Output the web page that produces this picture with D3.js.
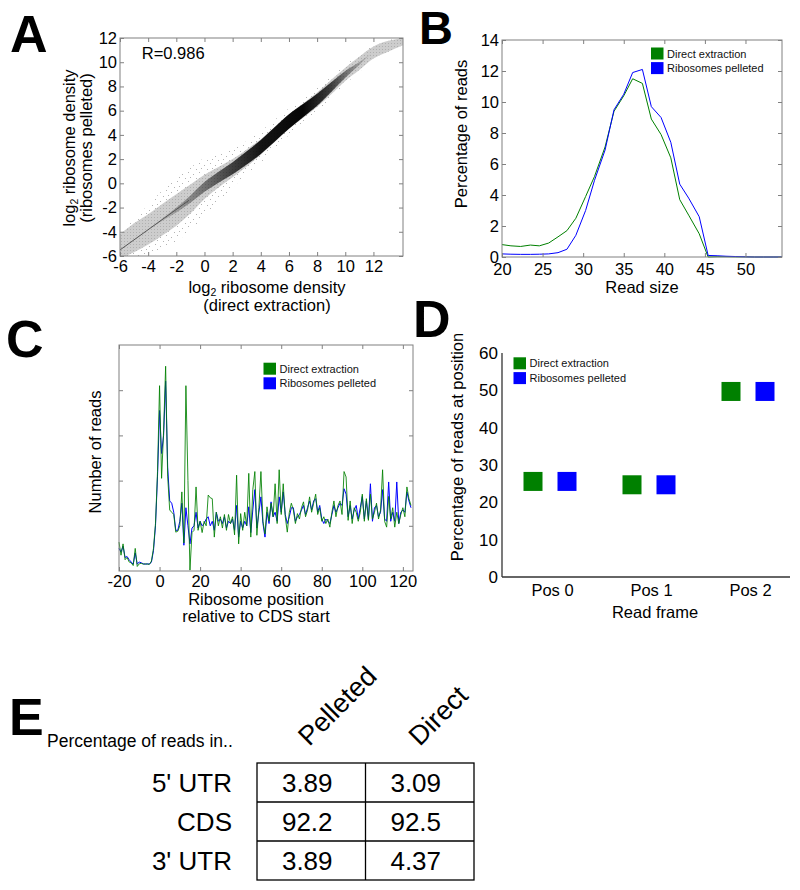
<!DOCTYPE html>
<html><head><meta charset="utf-8">
<script src="https://cdn.jsdelivr.net/npm/d3@7"></script>
<style>
body{margin:0;background:#fff;}
svg{display:block;font-family:"Liberation Sans",Arial,Helvetica,sans-serif;}
</style></head><body>
<svg id="chart" width="800" height="890"></svg>
<script>
// ================= DATA =================
// Panel A: scatter summarised as density bands
const scatterX      = [-6,-5,-4,-3,-2,-1,0,1,2,3,4,5,6,7,8,9,10,11,12,13,14.1];
const scatterMid    = [-5.2,-4.5,-3.8,-3.0,-2.2,-1.3,-0.3,0.5,1.25,2.1,3.0,4.05,5.1,6.0,6.9,7.95,9.0,9.9,10.8,11.3,11.7];
const scatterSparse = [1.0,1.6,2.0,2.4,2.6,2.6,2.4,2.0,1.6,1.4,1.3,1.2,1.1,1.0,1.0,0.9,0.8,0.7,0.6,0.5,0.35];
const scatterGrey   = [1.0,1.2,1.25,1.3,1.3,1.2,1.0,0.85,0.75,0.7,0.65,0.62,0.6,0.6,0.6,0.6,0.55,0.55,0.5,0.45,0.3];
const scatterDark   = [0,0,0.05,0.1,0.2,0.3,0.4,0.45,0.5,0.55,0.58,0.6,0.6,0.55,0.5,0.4,0.28,0.12,0,0,0];
const lowLineX = [-6,-1.1];
const lowLineY = [-5.5,-1.4];
const corrLabel = "R=0.986";
const aTicks = [-6,-4,-2,0,2,4,6,8,10,12];

// Panel B: read size distribution
const readSize = [20,21.1,22.3,23.5,24.6,25.75,26.9,28,29.1,30.3,31.4,32.7,33.8,35,36.1,37.3,38.4,39.6,40.8,41.9,43,44.3,45.4,46.5,47.6,48.8,50,51.1,52.2,53.4,54.5];
const bDirect   = [0.8,0.72,0.68,0.77,0.72,0.9,1.3,1.7,2.5,3.9,5.2,7.1,9.4,10.4,11.5,11.2,8.9,7.9,6.4,3.7,2.7,1.5,0.0,0.02,0.02,0.01,0.01,0,0,0,0];
const bPellet   = [0.2,0.18,0.17,0.17,0.18,0.2,0.28,0.5,1.4,3.0,4.95,6.9,9.5,10.5,11.9,12.1,9.7,9.0,7.4,4.7,3.8,2.6,0.1,0.08,0.05,0.03,0.01,0,0,0,0];
const bXTicks = [20,25,30,35,40,45,50];
const bYTicks = [0,2,4,6,8,10,12,14];

// Panel C: metagene profile around CDS start
const cPos = [-20,-19,-18,-17,-16,-15,-14,-13,-12,-11,-10,-9,-8,-7,-6,-5,-4,-3,-2,-1,
  0,1,2,3,4,5,6,7,8,9,10,11,12,13,14,15,16,17,18,19,20,21,22,23,24,25,26,27,28,29,
  30,31,32,33,34,35,36,37,38,39,40,41,42,43,44,45,46,47,48,49,50,51,52,53,54,55,56,57,58,59,
  60,61,62,63,64,65,66,67,68,69,70,71,72,73,74,75,76,77,78,79,80,81,82,83,84,85,86,87,88,89,
  90,91,92,93,94,95,96,97,98,99,100,101,102,103,104,105,106,107,108,109,110,111,112,113,114,115,116,117,118,119,
  120,121,122,123,124];
const cDirect = [0.64,0.35,0.60,0.25,0.30,0.20,0.18,0.12,0.50,0.10,0.16,0.17,0.15,0.16,0.15,0.15,0.22,0.50,1.05,2.20,
  4.10,2.05,3.10,4.53,2.10,1.35,1.30,1.25,0.86,0.88,1.00,1.75,0.62,4.10,2.00,0.02,0.85,0.90,1.86,0.90,1.10,0.85,1.10,1.00,1.68,1.62,1.60,0.75,1.30,1.00,
  1.20,0.95,1.25,0.90,1.25,1.05,1.20,0.80,2.12,0.60,1.27,0.90,1.30,1.00,2.16,0.75,1.80,2.20,0.79,1.40,2.20,1.10,0.82,1.42,1.10,1.50,1.20,1.93,1.05,2.24,
  1.25,1.93,1.20,0.86,1.30,1.50,1.35,1.05,1.27,1.15,1.40,1.53,1.20,1.35,1.64,1.30,1.50,1.70,1.25,1.40,1.10,1.20,1.05,1.15,0.97,1.30,1.55,1.20,1.45,1.55,
  1.25,2.20,2.08,1.12,1.55,1.05,1.40,1.30,1.10,1.30,1.70,1.10,1.60,1.12,1.70,1.15,1.30,1.50,1.15,1.35,2.24,1.10,0.97,1.65,1.15,1.40,0.97,1.30,1.05,1.25,
  1.40,1.20,1.86,1.60,1.45];
const cPellet = [0.50,0.42,0.55,0.30,0.32,0.25,0.20,0.15,0.40,0.15,0.20,0.18,0.16,0.15,0.16,0.15,0.20,0.45,1.00,2.10,
  3.55,2.60,3.00,4.20,2.30,1.55,1.50,1.30,0.90,0.90,1.10,1.50,0.57,1.40,1.00,0.60,0.95,1.00,1.30,0.95,1.10,1.00,1.05,1.15,1.20,1.00,1.10,0.90,1.30,1.10,
  1.15,1.05,1.20,0.95,1.10,1.05,1.15,0.90,1.45,0.75,1.10,0.95,1.10,1.00,1.42,0.85,1.35,1.80,0.95,1.30,1.64,1.05,0.75,1.30,1.05,1.53,1.20,1.30,1.10,1.64,
  1.30,1.75,1.25,1.05,1.20,1.40,1.40,1.10,1.20,1.25,1.35,1.45,1.25,1.40,1.55,1.35,1.55,1.60,1.30,1.45,1.15,1.05,1.15,1.10,1.05,1.25,1.45,1.30,1.40,1.50,
  1.45,1.82,1.70,1.20,1.45,1.15,1.35,1.45,1.15,1.40,1.65,1.15,1.55,1.15,1.93,1.10,1.40,1.45,1.20,1.30,1.80,1.15,1.10,1.97,1.10,1.30,1.10,1.97,1.05,1.30,
  1.35,1.30,1.75,1.55,1.40];
const cXTicks = [-20,0,20,40,60,80,100,120];
const cYTicks = [1,2,3,4];

// Panel D: reading frame
const frames = ["Pos 0","Pos 1","Pos 2"];
const dDirect = [25.6,24.7,49.7];
const dPellet = [25.6,24.7,49.7];
const dYTicks = [0,10,20,30,40,50,60];

// Panel E: table
const eRows = ["5' UTR","CDS","3' UTR"];
const eCols = ["Pelleted","Direct"];
const ePelleted = ["3.89","92.2","3.89"];
const eDirect   = ["3.09","92.5","4.37"];

const seriesNames = ["Direct extraction","Ribosomes pelleted"];
const GREEN = "#008000", BLUE = "#0000ff", FRAME = "#808080";

// ================= DRAW =================
const svg = d3.select("#chart");
svg.append("rect").attr("width",800).attr("height",890).attr("fill","#fff");
const defs = svg.append("defs");
const fmt = d => String(d);

function boxFrame(g, x, y, xt, yt, xLabels, yLabels, xPad) {
  const [x0,x1] = x.range(), [y0,y1] = y.range();
  const ax = (sel) => { sel.select(".domain").remove(); sel.selectAll("line").attr("stroke",FRAME);
    sel.selectAll("text").attr("fill","#000").attr("font-size",16.5); };
  g.append("g").attr("transform",`translate(0,${y0})`)
    .call(d3.axisBottom(x).tickValues(xt).tickSize(-4).tickSizeOuter(0).tickPadding(xPad||4).tickFormat(xLabels?fmt:""))
    .call(ax);
  g.append("g").attr("transform",`translate(0,${y1})`)
    .call(d3.axisTop(x).tickValues(xt).tickSize(-4).tickSizeOuter(0).tickFormat(""))
    .call(ax);
  g.append("g").attr("transform",`translate(${x0},0)`)
    .call(d3.axisLeft(y).tickValues(yt).tickSize(-4).tickSizeOuter(0).tickPadding(3).tickFormat(yLabels?fmt:""))
    .call(ax);
  g.append("g").attr("transform",`translate(${x1},0)`)
    .call(d3.axisRight(y).tickValues(yt).tickSize(-4).tickSizeOuter(0).tickFormat(""))
    .call(ax);
  g.append("rect").attr("x",x0).attr("y",y1).attr("width",x1-x0).attr("height",y0-y1)
    .attr("fill","none").attr("stroke",FRAME).attr("stroke-width",1);
}

function legend(g, x, y, gap) {
  seriesNames.forEach((n,i) => {
    g.append("rect").attr("x",x).attr("y",y+i*gap).attr("width",12.5).attr("height",12)
      .attr("fill", i===0?GREEN:BLUE);
    g.append("text").attr("x",x+16).attr("y",y+i*gap+10).attr("font-size",11).attr("fill","#111").text(n);
  });
}

function panelLetter(t, x, y, size) {
  svg.append("text").attr("x",x).attr("y",y).attr("font-size",size||52).attr("font-weight","bold").attr("fill","#000").text(t);
}

// ---------- Panel A ----------
{
  const g = svg.append("g");
  const x = d3.scaleLinear().domain([-6,14.1]).range([120,403]);
  const y = d3.scaleLinear().domain([-6,12]).range([256,38]);
  defs.append("clipPath").attr("id","clipA").append("rect")
    .attr("x",120).attr("y",38).attr("width",283).attr("height",218);
  const pat = defs.append("pattern").attr("id","speck").attr("patternUnits","userSpaceOnUse")
    .attr("width",11).attr("height",9);
  [[1,1],[6,3],[3,6],[9,7]].forEach(p => pat.append("rect").attr("x",p[0]).attr("y",p[1])
    .attr("width",1).attr("height",1).attr("fill","#b4b4b4"));
  const pat2 = defs.append("pattern").attr("id","speck2").attr("patternUnits","userSpaceOnUse")
    .attr("width",3).attr("height",3);
  pat2.append("rect").attr("width",3).attr("height",3).attr("fill","#cdcdcd");
  pat2.append("rect").attr("x",1).attr("y",1).attr("width",1).attr("height",1).attr("fill","#b0b0b0");
  const grad = defs.append("linearGradient").attr("id","coreGrad").attr("gradientUnits","userSpaceOnUse")
    .attr("x1",x(-6)).attr("x2",x(14.1)).attr("y1",0).attr("y2",0);
  const stops = [[-4,0],[-2,0.25],[0,0.45],[2,0.7],[4,0.9],[7,0.97],[9,0.7],[10.5,0.35],[12,0]];
  stops.forEach(s => grad.append("stop").attr("offset",(x(s[0])-x(-6))/(x(14.1)-x(-6)))
    .attr("stop-color","#000").attr("stop-opacity",s[1]));

  const pts = scatterX.map((v,i)=>({x:v,m:scatterMid[i],s:scatterSparse[i],g:scatterGrey[i],d:scatterDark[i]}));
  const area = (k) => d3.area().curve(d3.curveCatmullRom.alpha(0.5))
    .x(d=>x(d.x)).y0(d=>y(d.m-d[k])).y1(d=>y(d.m+d[k]));
  const cg = g.append("g").attr("clip-path","url(#clipA)");
  cg.append("path").attr("d",area("s")(pts)).attr("fill","url(#speck)");
  cg.append("path").attr("d",area("g")(pts)).attr("fill","url(#speck2)");
  cg.append("path").attr("d",area("d")(pts)).attr("fill","url(#coreGrad)");
  cg.append("path").attr("d",d3.line().x(d=>x(d)).y((d,i)=>y(lowLineY[i]))(lowLineX))
    .attr("stroke","#555").attr("stroke-width",1).attr("fill","none");

  boxFrame(g, x, y, aTicks, aTicks, true, true);
  g.append("text").attr("x",x(-4.45)).attr("y",y(10.3)).attr("font-size",16.5).attr("fill","#000").text(corrLabel);

  const xl = g.append("text").attr("text-anchor","middle").attr("font-size",16.5).attr("fill","#000");
  const t1 = xl.append("tspan").attr("x",267).attr("y",293);
  t1.append("tspan").text("log");
  t1.append("tspan").attr("font-size",10.5).attr("dy",2.5).text("2");
  t1.append("tspan").attr("dy",-2.5).text(" ribosome density");
  g.append("text").attr("x",267).attr("y",311).attr("text-anchor","middle").attr("font-size",16.5).text("(direct extraction)");

  const yl = g.append("text").attr("transform","translate(75,148) rotate(-90)").attr("text-anchor","middle").attr("font-size",16.5);
  yl.append("tspan").text("log");
  yl.append("tspan").attr("font-size",10.5).attr("dy",2.5).text("2");
  yl.append("tspan").attr("dy",-2.5).text(" ribosome density");
  g.append("text").attr("transform","translate(92,148) rotate(-90)").attr("text-anchor","middle").attr("font-size",16.5).text("(ribosomes pelleted)");
  panelLetter("A",10,52);
}

// ---------- Panel B ----------
{
  const g = svg.append("g");
  const x = d3.scaleLinear().domain([20,54.5]).range([502,782]);
  const y = d3.scaleLinear().domain([0,14]).range([257,40]);
  const line = (vals) => d3.line().x((d,i)=>x(readSize[i])).y(d=>y(d))(vals);
  g.append("path").attr("d",line(bDirect)).attr("fill","none").attr("stroke",GREEN).attr("stroke-width",1);
  g.append("path").attr("d",line(bPellet)).attr("fill","none").attr("stroke",BLUE).attr("stroke-width",1);
  boxFrame(g, x, y, bXTicks, bYTicks, true, true, 6);
  legend(g, 651, 47.5, 14.6);
  g.append("text").attr("x",642).attr("y",293).attr("text-anchor","middle").attr("font-size",16.5).text("Read size");
  g.append("text").attr("transform","translate(467,134) rotate(-90)").attr("text-anchor","middle").attr("font-size",16.5).text("Percentage of reads");
  panelLetter("B",419,44,47);
}

// ---------- Panel C ----------
{
  const g = svg.append("g");
  const x = d3.scaleLinear().domain([-20,125]).range([119,413]);
  const y = d3.scaleLinear().domain([0,5]).range([571,345]);
  const line = (vals) => d3.line().x((d,i)=>x(cPos[i])).y(d=>y(d))(vals);
  g.append("path").attr("d",line(cPellet)).attr("fill","none").attr("stroke",BLUE).attr("stroke-width",1);
  g.append("path").attr("d",line(cDirect)).attr("fill","none").attr("stroke",GREEN).attr("stroke-width",1).attr("stroke-opacity",0.85);
  boxFrame(g, x, y, cXTicks, cYTicks, true, false);
  legend(g, 263.5, 362.7, 14.6);
  g.append("text").attr("x",256).attr("y",605).attr("text-anchor","middle").attr("font-size",16.5).text("Ribosome position");
  g.append("text").attr("x",256).attr("y",622).attr("text-anchor","middle").attr("font-size",16.5).text("relative to CDS start");
  g.append("text").attr("transform","translate(101,452) rotate(-90)").attr("text-anchor","middle").attr("font-size",16.5).text("Number of reads");
  panelLetter("C",6,357);
}

// ---------- Panel D ----------
{
  const g = svg.append("g");
  const x = d3.scalePoint().domain(frames).range([550,748]);
  const y = d3.scaleLinear().domain([0,60]).range([577,353]);
  g.append("line").attr("x1",502).attr("x2",790).attr("y1",577).attr("y2",577).attr("stroke","#333").attr("stroke-width",1.3);
  g.append("line").attr("x1",502).attr("x2",502).attr("y1",353).attr("y2",577).attr("stroke","#333").attr("stroke-width",1.3);
  const ya = g.append("g").attr("transform","translate(502,0)")
    .call(d3.axisLeft(y).tickValues(dYTicks).tickSize(0).tickPadding(4).tickFormat(fmt));
  ya.select(".domain").remove(); ya.selectAll("text").attr("font-size",17).attr("fill","#000");
  const xa = g.append("g").attr("transform","translate(0,577)")
    .call(d3.axisBottom(x).tickSize(0).tickPadding(7));
  xa.select(".domain").remove(); xa.selectAll("text").attr("font-size",16.5).attr("fill","#000").attr("dx",2);
  const S = 19;
  g.selectAll(".dg").data(dDirect).enter().append("rect")
    .attr("x",(d,i)=>x(frames[i])-17-S/2).attr("y",d=>y(d)-S/2).attr("width",S).attr("height",S).attr("fill",GREEN);
  g.selectAll(".db").data(dPellet).enter().append("rect")
    .attr("x",(d,i)=>x(frames[i])+17-S/2).attr("y",d=>y(d)-S/2).attr("width",S).attr("height",S).attr("fill",BLUE);
  legend(g, 513.5, 357.3, 14.8);
  g.append("text").attr("x",655).attr("y",618).attr("text-anchor","middle").attr("font-size",16.5).text("Read frame");
  g.append("text").attr("transform","translate(463,447) rotate(-90)").attr("text-anchor","middle").attr("font-size",16.5).text("Percentage of reads at position");
  panelLetter("D",413,337);
}

// ---------- Panel E ----------
{
  const g = svg.append("g");
  const cx = d3.scaleBand().domain(eCols).range([257,474]);
  const ry = d3.scaleBand().domain(eRows).range([763,880]);
  const vals = [ePelleted, eDirect];
  g.append("rect").attr("x",257).attr("y",763).attr("width",217).attr("height",117)
    .attr("fill","none").attr("stroke","#000").attr("stroke-width",1.3);
  g.append("line").attr("x1",cx("Direct")).attr("x2",cx("Direct")).attr("y1",763).attr("y2",880).attr("stroke","#000").attr("stroke-width",1.3);
  eRows.slice(1).forEach(r => g.append("line").attr("x1",257).attr("x2",474).attr("y1",ry(r)).attr("y2",ry(r)).attr("stroke","#000").attr("stroke-width",1.3));
  eRows.forEach((r,i) => {
    g.append("text").attr("x",232).attr("y",ry(r)+ry.bandwidth()/2+9).attr("text-anchor","end").attr("font-size",26).text(r);
    eCols.forEach((c,j) => {
      g.append("text").attr("x",cx(c)+cx.bandwidth()/2-4).attr("y",ry(r)+ry.bandwidth()/2+9)
        .attr("text-anchor","middle").attr("font-size",26).text(vals[j][i]);
    });
  });
  eCols.forEach((c,j) => {
    g.append("text").attr("transform",`translate(${cx(c)+cx.bandwidth()/2-2+ (j?2:0)},747) rotate(-45)`)
      .attr("font-size",27).text(c);
  });
  g.append("text").attr("x",47).attr("y",747).attr("font-size",17.5).text("Percentage of reads in..");
  panelLetter("E",9,735);
}
</script>
</body></html>
